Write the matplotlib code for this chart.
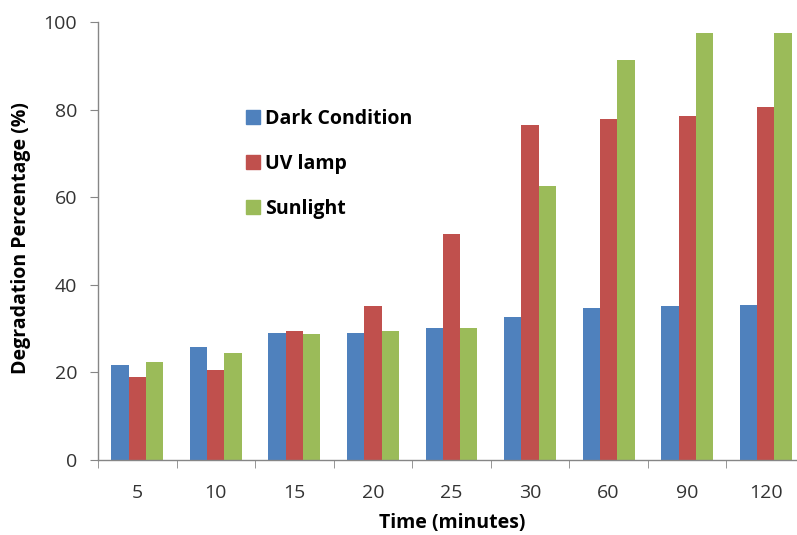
import numpy as np
import matplotlib
matplotlib.use("Agg")
import matplotlib.pyplot as plt
from matplotlib.patches import Patch

plt.rcParams['font.family'] = ['Open Sans', 'DejaVu Sans']

times = ['5', '10', '15', '20', '25', '30', '60', '90', '120']
dark = [21.8, 25.7, 29.1, 29.1, 30.1, 32.6, 34.7, 35.2, 35.5]
uv_lamp = [19.0, 20.6, 29.5, 35.2, 51.6, 76.5, 77.8, 78.5, 80.5]
sunlight = [22.4, 24.4, 28.8, 29.5, 30.1, 62.6, 91.3, 97.4, 97.4]

series = [('Dark Condition', dark, '#4F81BD'),
          ('UV lamp', uv_lamp, '#C0504D'),
          ('Sunlight', sunlight, '#9BBB59')]

W, H = 797, 535
fig = plt.figure(figsize=(W / 100, H / 100), dpi=100)
# axes box in pixels: left 98, right 805 (clipped by the figure), top 22, bottom 460
ax = fig.add_axes([98 / W, (H - 460) / H, (805 - 98) / W, (460 - 22) / H])

x = np.arange(len(times))
bw = 0.22
for k, (name, vals, col) in enumerate(series):
    ax.bar(x + (k - 1) * bw, vals, bw, color=col, label=name, zorder=2)

ax.set_xlim(-0.5, len(times) - 0.5)
ax.set_ylim(0, 100)
ax.set_yticks(range(0, 101, 20))
ax.set_xticks(x)
ax.set_xticklabels(times)
ax.set_xticks(np.arange(-0.5, len(times), 1), minor=True)

for s in ['top', 'right']:
    ax.spines[s].set_visible(False)
for s in ['left', 'bottom']:
    ax.spines[s].set_color('#868686')
    ax.spines[s].set_linewidth(1.0)

ax.tick_params(axis='x', which='major', length=0, pad=17, labelsize=14, labelcolor='#333333')
ax.tick_params(axis='x', which='minor', length=6, color='#868686')
ax.tick_params(axis='y', length=6, color='#868686', pad=9, labelsize=14, labelcolor='#333333')

ax.set_xlabel('Time (minutes)', fontsize=14, fontweight='bold')
ax.xaxis.set_label_coords((452 - 98) / (805 - 98), -(523 - 460) / (460 - 22))
ax.xaxis.label.set_va('center')
fig.text(21 / W, 1 - 238 / H, 'Degradation Percentage (%)', rotation=90,
         ha='center', va='center', fontsize=14, fontweight='bold')

handles = [Patch(color=c) for _, _, c in series]
ax.legend(handles, [n for n, _, _ in series], loc='upper left',
          bbox_to_anchor=((228 - 98) / (805 - 98), 1 - (91 - 22) / (460 - 22)),
          frameon=False, handlelength=0.75, handleheight=0.75, handletextpad=0.25,
          labelspacing=1.3, prop={'weight': 'bold', 'size': 14})

fig.savefig('out.png', dpi=100)
